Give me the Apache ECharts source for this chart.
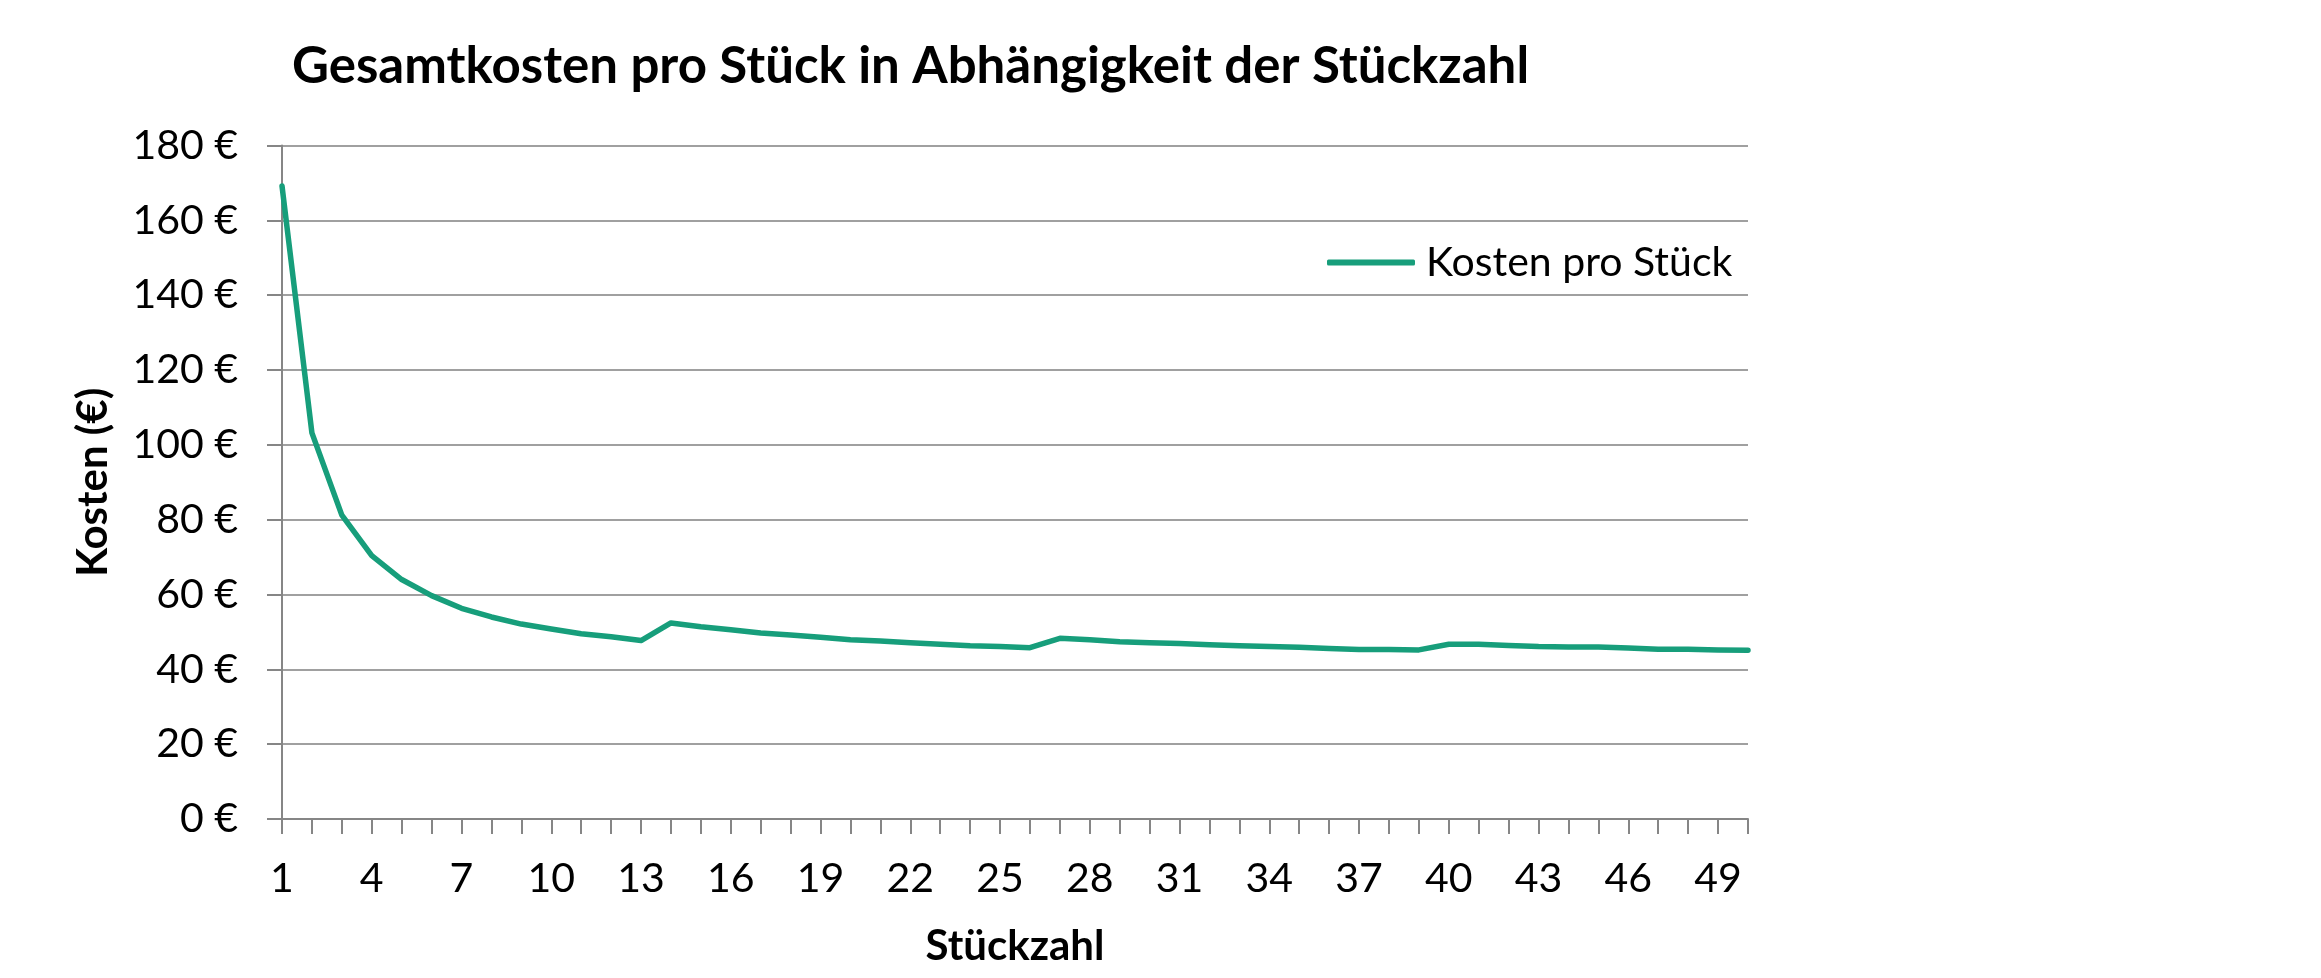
<!DOCTYPE html>
<html>
<head>
<meta charset="utf-8">
<script src="https://cdn.jsdelivr.net/npm/echarts@6/dist/echarts.min.js"></script>
<style>
html,body{margin:0;padding:0;background:#fff;}
#chart{width:2321px;height:978px;}
</style>
</head>
<body>
<div id="chart"></div>
<script>
const titleText = 'Gesamtkosten pro Stück in Abhängigkeit der Stückzahl';
const xAxisTitle = 'Stückzahl';
const yAxisTitle = 'Kosten (€)';
const seriesName = 'Kosten pro Stück';
const categories = ['1','2','3','4','5','6','7','8','9','10','11','12','13','14','15','16','17','18','19','20','21','22','23','24','25','26','27','28','29','30','31','32','33','34','35','36','37','38','39','40','41','42','43','44','45','46','47','48','49','50'];
const costPerPiece = [169.2,103.2,81.2,70.4,64.0,59.7,56.3,54.0,52.1,50.8,49.5,48.7,47.7,52.4,51.4,50.6,49.7,49.2,48.6,47.9,47.6,47.1,46.7,46.3,46.1,45.8,48.3,47.9,47.4,47.1,46.9,46.6,46.3,46.1,45.9,45.6,45.3,45.3,45.2,46.7,46.7,46.4,46.1,46.0,46.0,45.7,45.4,45.4,45.2,45.1];
const yMin = 0, yMax = 180, yStep = 20;

const FONT = 'Lato';
const LINE_COLOR = '#179e7b';
const chart = echarts.init(document.getElementById('chart'), null, {renderer:'canvas'});
chart.setOption({
  animation:false,
  backgroundColor:'#ffffff',
  title:{
    text:titleText,
    left:287, top:36,
    textStyle:{fontFamily:FONT,fontWeight:'bold',fontSize:51,color:'#000'}
  },
  legend:{
    data:[{name:seriesName,icon:'roundRect'}],
    left:1322, top:237,
    itemWidth:88, itemHeight:6,
    itemStyle:{color:LINE_COLOR},
    textStyle:{fontFamily:FONT,fontSize:41,color:'#000',padding:[0,0,0,6]}
  },
  grid:{left:282,right:573,top:145.5,bottom:159,containLabel:false},
  xAxis:{
    type:'category',
    data:categories,
    boundaryGap:false,
    name:xAxisTitle,
    nameLocation:'middle',
    nameGap:106,
    nameTextStyle:{fontFamily:FONT,fontWeight:'bold',fontSize:42,color:'#000'},
    axisLine:{show:true,lineStyle:{color:'#868686',width:2}},
    axisTick:{show:true,interval:0,length:15,lineStyle:{color:'#868686',width:2}},
    axisLabel:{interval:2,margin:39,fontFamily:FONT,fontSize:41,color:'#000'},
    splitLine:{show:false}
  },
  yAxis:{
    type:'value',
    min:yMin,max:yMax,interval:yStep,
    name:yAxisTitle,
    nameLocation:'middle',
    nameGap:168,
    nameRotate:90,
    nameTextStyle:{fontFamily:FONT,fontWeight:'bold',fontSize:42,color:'#000'},
    axisLine:{show:true,lineStyle:{color:'#868686',width:2}},
    axisTick:{show:true,length:15,lineStyle:{color:'#868686',width:2}},
    axisLabel:{margin:44,fontFamily:FONT,fontSize:41,color:'#000',formatter:v=>v+' €'},
    splitLine:{show:true,lineStyle:{color:'#a0a0a0',width:2}}
  },
  series:[{
    name:seriesName,
    type:'line',
    data:costPerPiece,
    showSymbol:false,
    symbol:'none',
    smooth:false,
    lineStyle:{color:LINE_COLOR,width:5.5,cap:'round',join:'round'},
    itemStyle:{color:LINE_COLOR}
  }]
});
</script>
</body>
</html>
